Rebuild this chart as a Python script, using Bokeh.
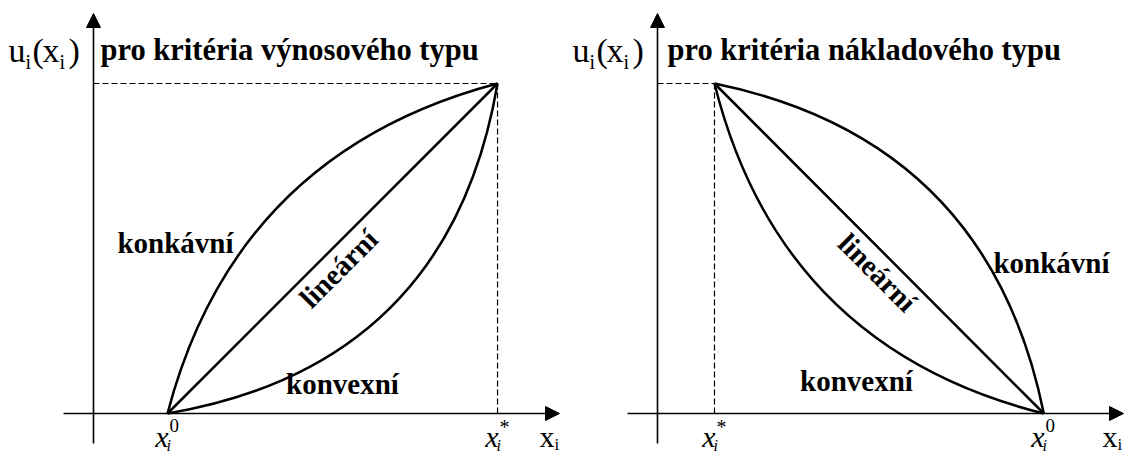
import math
from bokeh.plotting import figure
from bokeh.models import Range1d, Arrow, NormalHead, Label
from bokeh.layouts import row
from bokeh.embed import file_html
from bokeh.resources import INLINE

# ---------------- data (abstract units: x along criterion axis, u = utility) -------------
U_MAX = 1.0
# left panel: benefit type (výnosový)
LEFT_X0 = 1.0          # x_i^0
LEFT_XSTAR = 5.46      # x_i^*
LEFT_CONCAVE_CTRL = [1.92, 0.79]   # control point of concave curve
LEFT_CONVEX_CTRL = [4.81, 0.145]   # control point of convex curve
# right panel: cost type (nákladový)
RIGHT_XSTAR = 0.77
RIGHT_X0 = 5.22
RIGHT_CONCAVE_CTRL = [4.47, 0.83]
RIGHT_CONVEX_CTRL = [1.66, 0.20]

TITLES = ["pro kritéria výnosového typu", "pro kritéria nákladového typu"]
CURVE_NAMES = ["konkávní", "lineární", "konvexní"]

# ---------------- layout (pixels) ----------------
PH = 455
PX_X, PX_U = 74.0, 330.0
AXIS_Y_PAGE = 413.0
FONT = "Liberation Serif"
MID = 0.34   # distance from text middle to baseline, in em


def make_panel(page_left, width, origin_x):
    def dx(px):
        return (px - origin_x) / PX_X

    def dy(py):
        return (AXIS_Y_PAGE - py) / PX_U

    p = figure(width=width, height=PH, toolbar_location=None, output_backend="svg",
               x_axis_type=None, y_axis_type=None, min_border=0,
               x_range=Range1d(dx(page_left), dx(page_left + width)),
               y_range=Range1d(dy(PH), dy(0)))
    p.grid.visible = False
    p.outline_line_color = None
    p.background_fill_color = "white"
    p.border_fill_color = "white"

    # axes with arrows
    p.add_layout(Arrow(end=NormalHead(size=14, fill_color="black", line_color="black", line_width=1),
                       x_start=dx(origin_x - 30), y_start=0, x_end=dx(origin_x + 466), y_end=0,
                       line_width=1.6, line_color="black"))
    p.add_layout(Arrow(end=NormalHead(size=14, fill_color="black", line_color="black", line_width=1),
                       x_start=0, y_start=dy(443), x_end=0, y_end=dy(13),
                       line_width=1.6, line_color="black"))

    def txt(px, base, text, size, style="normal", align="left", angle=0.0, centre=False):
        # base = baseline y in page pixels (or centre y when centre=True)
        yc = base if centre else base - MID * size
        p.add_layout(Label(x=dx(px), y=dy(yc), text=text, text_font=FONT,
                           text_font_size=f"{size}px", text_font_style=style,
                           text_align=align, text_baseline="middle", angle=angle,
                           text_color="black"))

    return p, dx, dy, txt


def ulabel(txt, x0):
    txt(x0, 62, "u", 34)
    txt(x0 + 17, 68, "i", 20)
    txt(x0 + 24, 62, "(", 34)
    txt(x0 + 34, 62, "x", 34)
    txt(x0 + 51, 68, "i", 20)
    txt(x0 + 60, 62, ")", 34)


def xlabel(txt, px, sup):
    txt(px + 1, 446, "x", 30, style="italic", align="right")
    txt(px - 1, 450, "i", 16, style="italic")
    if sup == "0":
        txt(px + 2, 431, "0", 19)
    else:
        txt(px + 2, 433, "*", 20)


def axislabel(txt, px):
    txt(px, 446, "x", 30)
    txt(px + 15, 450, "i", 17)


# ---------------- left panel ----------------
pl, dxl, dyl, txtl = make_panel(0, 564, 93)
pl.line([0, LEFT_XSTAR], [U_MAX, U_MAX], line_dash="6 3", line_width=1.2, line_color="black")
pl.line([LEFT_XSTAR, LEFT_XSTAR], [0, U_MAX], line_dash="6 3", line_width=1.2, line_color="black")
pl.line([LEFT_X0, LEFT_XSTAR], [0, U_MAX], line_width=2.5, line_color="black")
pl.quadratic(x0=[LEFT_X0, LEFT_X0], y0=[0, 0], x1=[LEFT_XSTAR, LEFT_XSTAR], y1=[U_MAX, U_MAX],
             cx=[LEFT_CONCAVE_CTRL[0], LEFT_CONVEX_CTRL[0]], cy=[LEFT_CONCAVE_CTRL[1], LEFT_CONVEX_CTRL[1]],
             line_width=2.5, line_color="black")
ulabel(txtl, 8)
txtl(100, 60, TITLES[0], 30.5, style="bold")
txtl(175, 252, CURVE_NAMES[0], 29, style="bold", align="center")
txtl(338, 268, CURVE_NAMES[1], 29, style="bold", align="center", angle=math.pi / 4, centre=True)
txtl(342, 393, CURVE_NAMES[2], 29, style="bold", align="center")
xlabel(txtl, 167, "0")
xlabel(txtl, 497, "*")
axislabel(txtl, 539)

# ---------------- right panel ----------------
pr, dxr, dyr, txtr = make_panel(564, 565, 657)
pr.line([0, RIGHT_XSTAR], [U_MAX, U_MAX], line_dash="6 3", line_width=1.2, line_color="black")
pr.line([RIGHT_XSTAR, RIGHT_XSTAR], [0, U_MAX], line_dash="6 3", line_width=1.2, line_color="black")
pr.line([RIGHT_XSTAR, RIGHT_X0], [U_MAX, 0], line_width=2.5, line_color="black")
pr.quadratic(x0=[RIGHT_XSTAR, RIGHT_XSTAR], y0=[U_MAX, U_MAX], x1=[RIGHT_X0, RIGHT_X0], y1=[0, 0],
             cx=[RIGHT_CONCAVE_CTRL[0], RIGHT_CONVEX_CTRL[0]], cy=[RIGHT_CONCAVE_CTRL[1], RIGHT_CONVEX_CTRL[1]],
             line_width=2.5, line_color="black")
ulabel(txtr, 572)
txtr(667, 60, TITLES[1], 30.5, style="bold")
txtr(1051, 272, CURVE_NAMES[0], 29, style="bold", align="center")
txtr(877, 272, CURVE_NAMES[1], 29, style="bold", align="center", angle=-math.pi / 4, centre=True)
txtr(856, 390, CURVE_NAMES[2], 29, style="bold", align="center")
xlabel(txtr, 714, "*")
xlabel(txtr, 1043, "0")
axislabel(txtr, 1102)

layout = row(pl, pr, spacing=0)
open("out.html", "w").write(file_html(layout, INLINE))
